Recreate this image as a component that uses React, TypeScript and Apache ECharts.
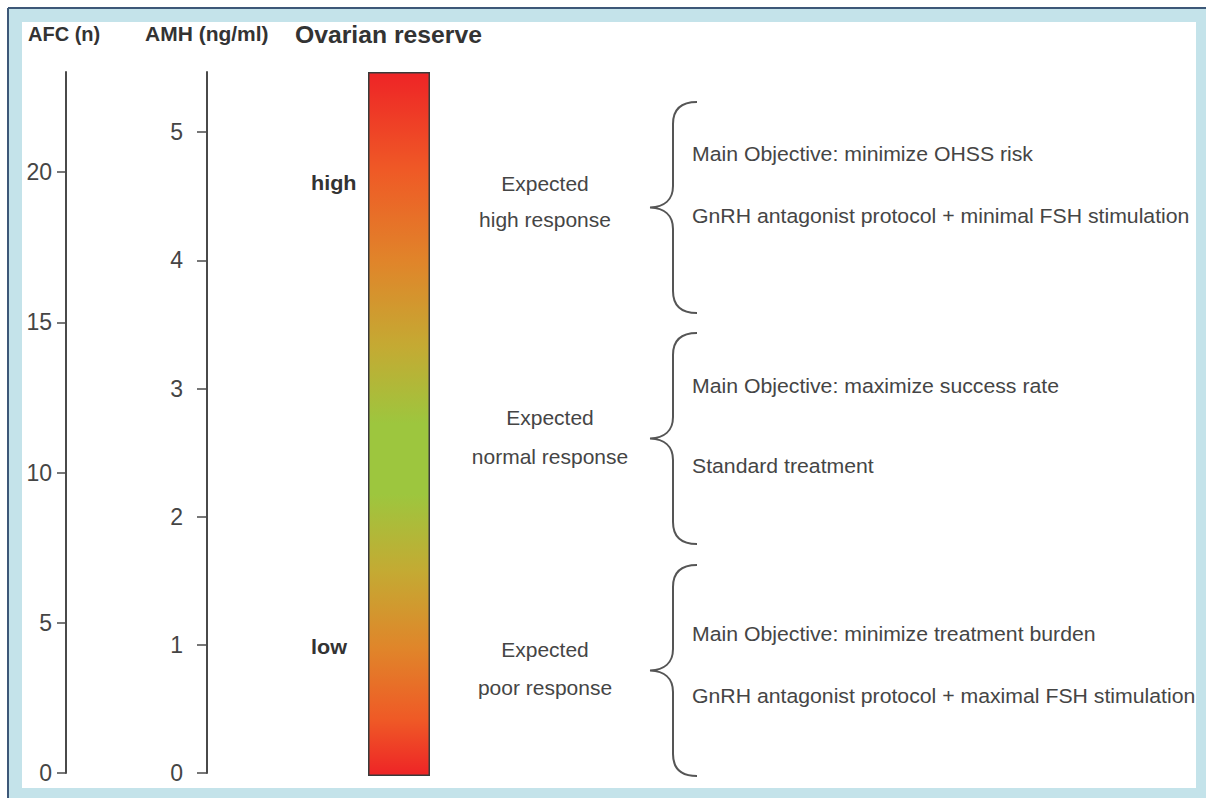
import React, { useEffect, useRef } from "react";
import * as echarts from "echarts";

// ---- data ----
const afcTicks = [0, 5, 10, 15, 20];
const afcMax = 23.33;
const amhTicks = [0, 1, 2, 3, 4, 5];
const amhMax = 5.47;
const headers = ["AFC (n)", "AMH (ng/ml)", "Ovarian reserve"];
const reserveCategory = ["Ovarian reserve"];
const reserveBar = [1];
const reserveLevels = ["high", "low"];
const responses = [
  ["Expected", "high response"],
  ["Expected", "normal response"],
  ["Expected", "poor response"],
];
const objectives = [
  "Main Objective: minimize OHSS risk",
  "Main Objective: maximize success rate",
  "Main Objective: minimize treatment burden",
];
const treatments = [
  "GnRH antagonist protocol + minimal FSH stimulation",
  "Standard treatment",
  "GnRH antagonist protocol + maximal FSH stimulation",
];

const FONT = "'Liberation Sans', Arial, Helvetica, sans-serif";
const BRACE_D =
  "M 47 0 C 32 0 23 6 23 22 L 23 84 C 23 98 14 105 0 105.5 C 14 106 23 113 23 127 L 23 189 C 23 205 32 211 47 211";

let registered = false;

export default function App() {
  const ref = useRef<HTMLDivElement>(null);
  useEffect(() => {
    document.body.style.margin = "0";
    if (!registered) {
      echarts.graphic.registerShape("brace", echarts.graphic.extendPath(BRACE_D, {}));
      registered = true;
    }
    const chart = echarts.init(ref.current!, null, { renderer: "svg" });
    const axisColor = "#4a4a4a";
    const textColor = "#454545";

    const txt = (text: string, x: number, y: number, size: number, opts: any = {}) => ({
      type: "text",
      x,
      y,
      scaleX: opts.scaleX || 1,
      silent: true,
      style: {
        text,
        fill: opts.fill || textColor,
        fontSize: size,
        fontWeight: opts.bold ? "bold" : "normal",
        fontFamily: FONT,
        align: opts.align || "left",
        textAlign: opts.align || "left",
        verticalAlign: "middle",
        textVerticalAlign: "middle",
      },
    });

    const lightBlue = "#c4e3ea";
    const darkLine = "#3d5878";
    const graphic: any[] = [
      { type: "rect", shape: { x: 9, y: 9, width: 1197, height: 13 }, style: { fill: lightBlue }, silent: true },
      { type: "rect", shape: { x: 9, y: 9, width: 13, height: 789 }, style: { fill: lightBlue }, silent: true },
      { type: "rect", shape: { x: 1196, y: 9, width: 10, height: 789 }, style: { fill: lightBlue }, silent: true },
      { type: "rect", shape: { x: 9, y: 788, width: 1197, height: 10 }, style: { fill: lightBlue }, silent: true },
      { type: "line", shape: { x1: 8, y1: 8, x2: 1206, y2: 8 }, style: { stroke: darkLine, lineWidth: 2 }, silent: true },
      { type: "line", shape: { x1: 8, y1: 8, x2: 8, y2: 798 }, style: { stroke: darkLine, lineWidth: 2 }, silent: true },
      txt(headers[0], 28, 34, 20, { bold: true, fill: "#333" }),
      txt(headers[1], 145, 34, 20, { bold: true, fill: "#333", scaleX: 1.05 }),
      txt(headers[2], 295, 35, 24, { bold: true, fill: "#333", scaleX: 1.03 }),
      txt(reserveLevels[0], 311, 183, 20, { bold: true, fill: "#333", scaleX: 1.08 }),
      txt(reserveLevels[1], 311, 647, 20, { bold: true, fill: "#333", scaleX: 1.08 }),
    ];
    const respPos = [
      [545, 184, 220],
      [550, 418, 457],
      [545, 650, 688],
    ];
    responses.forEach((r, i) => {
      graphic.push(txt(r[0], respPos[i][0], respPos[i][1], 20, { align: "center", scaleX: 1.05 }));
      graphic.push(txt(r[1], respPos[i][0], respPos[i][2], 20, { align: "center", scaleX: 1.05 }));
    });
    const braceTops = [102, 333, 565];
    const objY = [154, 386, 634];
    const trtY = [216, 466, 696];
    braceTops.forEach((y, i) => {
      graphic.push({
        type: "brace",
        x: 650,
        y,
        silent: true,
        style: { stroke: "#555", lineWidth: 2, fill: "none" },
      });
      graphic.push(txt(objectives[i], 692, objY[i], 19.5, { scaleX: 1.09 }));
      graphic.push(txt(treatments[i], 692, trtY[i], 19.5, { scaleX: 1.09 }));
    });

    const axisLabelBase = { fontSize: 23, color: textColor, fontFamily: FONT };

    chart.setOption({
      animation: false,
      backgroundColor: "#ffffff",
      grid: [
        { left: 66, top: 72, width: 20, height: 701 },
        { left: 207, top: 72, width: 20, height: 701 },
        { left: 368, top: 72, width: 62, height: 704 },
      ],
      xAxis: [
        { type: "value", gridIndex: 0, show: false },
        { type: "value", gridIndex: 1, show: false },
        { type: "category", gridIndex: 2, data: reserveCategory, show: false },
      ],
      yAxis: [
        {
          type: "value",
          gridIndex: 0,
          min: 0,
          max: afcMax,
          axisLine: { show: true, lineStyle: { color: axisColor, width: 2 } },
          axisTick: { show: true, length: 9, customValues: afcTicks, lineStyle: { color: axisColor, width: 1.5 } },
          axisLabel: { ...axisLabelBase, margin: 14, customValues: afcTicks },
          splitLine: { show: false },
        },
        {
          type: "value",
          gridIndex: 1,
          min: 0,
          max: amhMax,
          axisLine: { show: true, lineStyle: { color: axisColor, width: 2 } },
          axisTick: { show: true, length: 10, customValues: amhTicks, lineStyle: { color: axisColor, width: 1.5 } },
          axisLabel: { ...axisLabelBase, margin: 24, customValues: amhTicks },
          splitLine: { show: false },
        },
        { type: "value", gridIndex: 2, min: 0, max: 1, show: false, splitLine: { show: false } },
      ],
      series: [
        {
          type: "bar",
          xAxisIndex: 2,
          yAxisIndex: 2,
          data: reserveBar,
          barWidth: "100%",
          silent: true,
          itemStyle: {
            borderColor: "#3a3a3a",
            borderWidth: 1.5,
            color: new echarts.graphic.LinearGradient(0, 0, 0, 1, [
              { offset: 0, color: "#ee2426" },
              { offset: 0.14, color: "#ef5a26" },
              { offset: 0.27, color: "#e0852a" },
              { offset: 0.39, color: "#c4aa33" },
              { offset: 0.5, color: "#9dc63e" },
              { offset: 0.6, color: "#9dc63e" },
              { offset: 0.71, color: "#c4aa33" },
              { offset: 0.82, color: "#e0852a" },
              { offset: 0.92, color: "#ef5a26" },
              { offset: 1, color: "#ee2426" },
            ]),
          },
        },
      ],
      graphic,
    });
    return () => chart.dispose();
  }, []);
  return <div ref={ref} style={{ width: 1206, height: 798 }} />;
}
